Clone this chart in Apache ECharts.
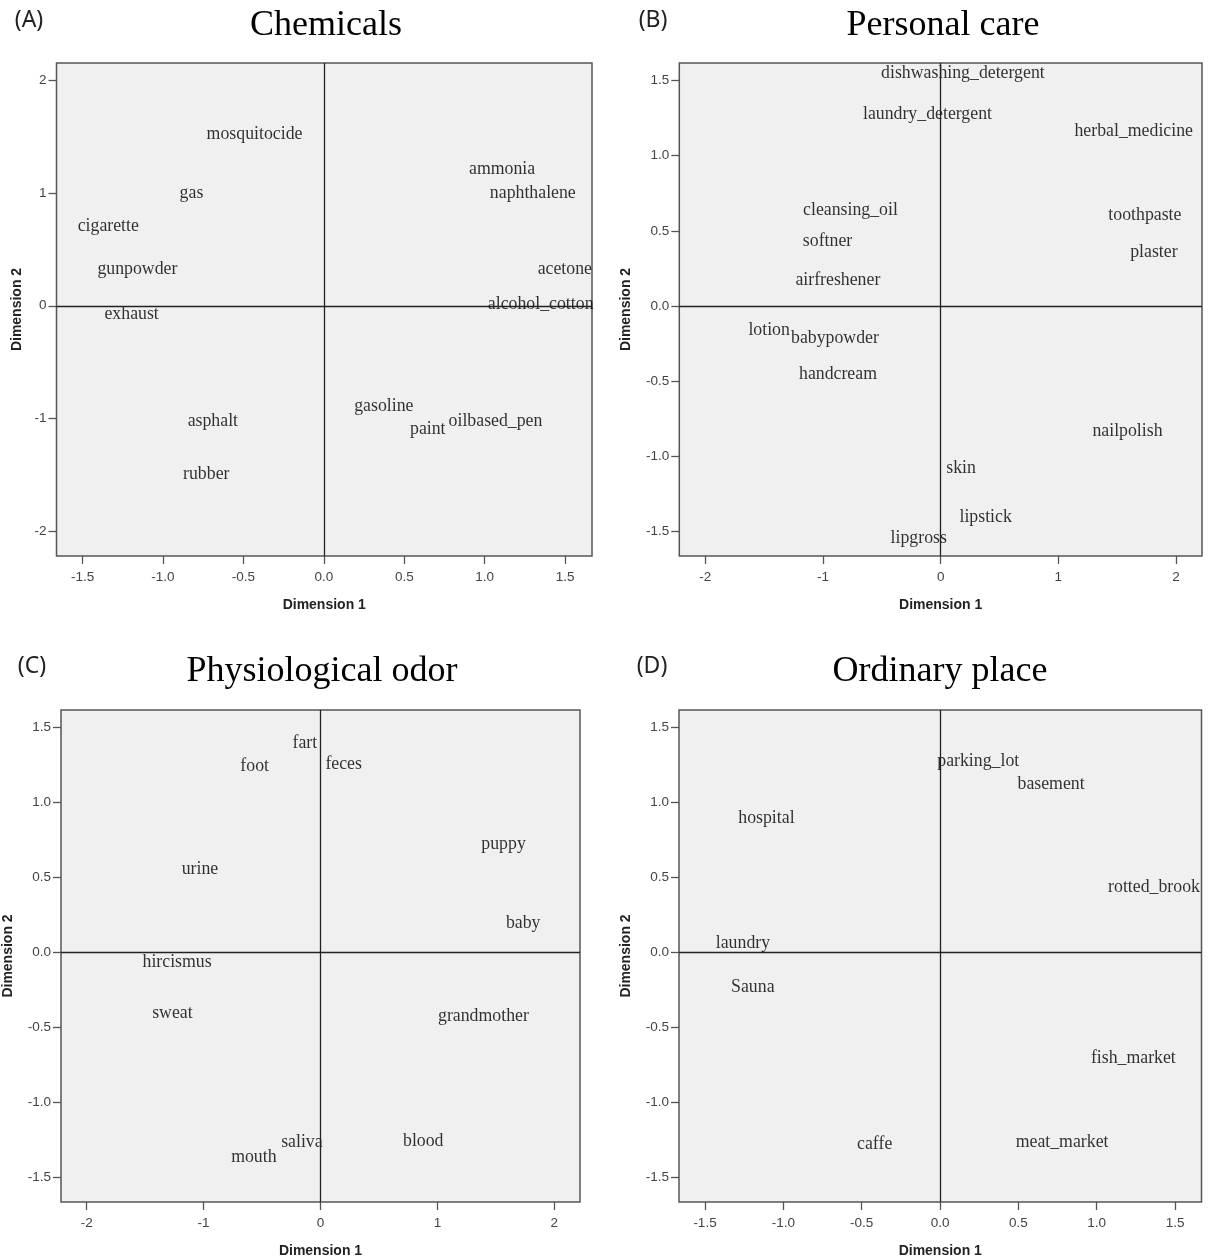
<!DOCTYPE html>
<html>
<head>
<meta charset="utf-8">
<script src="https://cdn.jsdelivr.net/npm/echarts@6/dist/echarts.min.js"></script>
<style>
html,body{margin:0;padding:0;background:#fff;}
#chart{width:1211px;height:1260px;}
</style>
</head>
<body>
<div id="chart"></div>
<script>
// ---------- Data ----------
// (A) Chemicals
const chemNames = ['mosquitocide','ammonia','naphthalene','gas','cigarette','gunpowder','acetone','alcohol_cotton','exhaust','asphalt','rubber','gasoline','paint','oilbased_pen'];
const chemDim1  = [-0.431, 1.108, 1.299, -0.823, -1.340, -1.159, 1.498, 1.348, -1.195, -0.690, -0.731, 0.373, 0.646, 1.067];
const chemDim2  = [1.531, 1.218, 1.003, 1.003, 0.717, 0.333, 0.333, 0.024, -0.065, -1.019, -1.486, -0.886, -1.084, -1.013];
const chemXTicks = [-1.5, -1.0, -0.5, 0.0, 0.5, 1.0, 1.5];
const chemYTicks = [-2, -1, 0, 1, 2];

// (B) Personal care
const careNames = ['dishwashing_detergent','laundry_detergent','herbal_medicine','cleansing_oil','toothpaste','softner','plaster','airfreshener','lotion','babypowder','handcream','nailpolish','skin','lipstick','lipgross'];
const careDim1  = [0.189, -0.112, 1.640, -0.766, 1.735, -0.961, 1.811, -0.873, -1.457, -0.898, -0.872, 1.587, 0.174, 0.382, -0.186];
const careDim2  = [1.553, 1.283, 1.166, 0.642, 0.608, 0.436, 0.363, 0.177, -0.155, -0.211, -0.448, -0.829, -1.075, -1.400, -1.538];
const careXTicks = [-2, -1, 0, 1, 2];
const careYTicks = [-1.5, -1.0, -0.5, 0.0, 0.5, 1.0, 1.5];

// (C) Physiological odor
const physNames = ['fart','foot','feces','puppy','urine','baby','hircismus','sweat','grandmother','saliva','blood','mouth'];
const physDim1  = [-0.134, -0.563, 0.198, 1.566, -1.031, 1.734, -1.227, -1.267, 1.394, -0.159, 0.879, -0.570];
const physDim2  = [1.399, 1.244, 1.255, 0.724, 0.560, 0.199, -0.060, -0.401, -0.421, -1.265, -1.259, -1.365];
const physXTicks = [-2, -1, 0, 1, 2];
const physYTicks = [-1.5, -1.0, -0.5, 0.0, 0.5, 1.0, 1.5];

// (D) Ordinary place
const placeNames = ['parking_lot','basement','hospital','rotted_brook','laundry','Sauna','fish_market','caffe','meat_market'];
const placeDim1  = [0.244, 0.709, -1.108, 1.366, -1.258, -1.195, 1.234, -0.417, 0.779];
const placeDim2  = [1.275, 1.121, 0.900, 0.435, 0.064, -0.226, -0.702, -1.279, -1.263];
const placeXTicks = [-1.5, -1.0, -0.5, 0.0, 0.5, 1.0, 1.5];
const placeYTicks = [-1.5, -1.0, -0.5, 0.0, 0.5, 1.0, 1.5];

const panelTitles  = ['Chemicals', 'Personal care', 'Physiological odor', 'Ordinary place'];
const panelLetters = ['(A)', '(B)', '(C)', '(D)'];

// ---------- Layout / style ----------
const panels = [
  {names: chemNames,  d1: chemDim1,  d2: chemDim2,  xt: chemXTicks,  yt: chemYTicks,  xd: 1, yd: 0,
   grid: {left: 56.5, top: 63, width: 535.5, height: 493}, xr: [-1.662, 1.667], yr: [-2.217, 2.151], yGap: 32,
   title: [326, 26], letter: [29, 20]},
  {names: careNames,  d1: careDim1,  d2: careDim2,  xt: careXTicks,  yt: careYTicks,  xd: 0, yd: 1,
   grid: {left: 679.3, top: 63, width: 522.7, height: 493}, xr: [-2.22, 2.22], yr: [-1.663, 1.617], yGap: 46,
   title: [943, 26], letter: [653, 20]},
  {names: physNames,  d1: physDim1,  d2: physDim2,  xt: physXTicks,  yt: physYTicks,  xd: 0, yd: 1,
   grid: {left: 59, top: 710, width: 521, height: 492}, xr: [-2.22, 2.22], yr: [-1.667, 1.613], yGap: 46,
   title: [322, 672], letter: [32, 666]},
  {names: placeNames, d1: placeDim1, d2: placeDim2, xt: placeXTicks, yt: placeYTicks, xd: 1, yd: 1,
   grid: {left: 679, top: 710, width: 522.5, height: 492}, xr: [-1.666, 1.669], yr: [-1.667, 1.613], yGap: 46,
   title: [940, 672], letter: [652, 666]}
];

const grids = [], xAxes = [], yAxes = [], series = [], graphics = [];
panels.forEach((p, i) => {
  grids.push(Object.assign({
    show: true, backgroundColor: '#f0f0f0', borderColor: '#555', borderWidth: 1.5, containLabel: false
  }, p.grid));
  const tickStyle = {show: true, inside: false, length: 8, lineStyle: {color: '#555', width: 1.3}};
  xAxes.push({
    type: 'value', gridIndex: i, min: p.xr[0], max: p.xr[1],
    name: 'Dimension 1', nameLocation: 'middle', nameGap: 42,
    nameTextStyle: {fontFamily: 'Liberation Sans', fontWeight: 'bold', fontSize: 14, color: '#222'},
    axisLine: {show: false, onZero: false},
    axisTick: Object.assign({customValues: p.xt}, tickStyle),
    axisLabel: {customValues: p.xt, margin: 14, fontFamily: 'Liberation Sans', fontSize: 13.5, color: '#444',
      formatter: v => Number(v).toFixed(p.xd)},
    splitLine: {show: false}
  });
  yAxes.push({
    type: 'value', gridIndex: i, min: p.yr[0], max: p.yr[1],
    name: 'Dimension 2', nameLocation: 'middle', nameGap: p.yGap, nameRotate: 90,
    nameTextStyle: {fontFamily: 'Liberation Sans', fontWeight: 'bold', fontSize: 14, color: '#222'},
    axisLine: {show: false, onZero: false},
    axisTick: Object.assign({customValues: p.yt}, tickStyle),
    axisLabel: {customValues: p.yt, margin: 10, fontFamily: 'Liberation Sans', fontSize: 13.5, color: '#444',
      formatter: v => Number(v).toFixed(p.yd)},
    splitLine: {show: false}
  });
  series.push({
    type: 'scatter', xAxisIndex: i, yAxisIndex: i,
    symbolSize: 0,
    data: p.names.map((n, k) => ({name: n, value: [p.d1[k], p.d2[k]]})),
    label: {show: true, position: 'inside', formatter: '{b}', offset: [0, 1],
      fontFamily: 'Liberation Serif', fontSize: 17.8, color: '#000'},
    markLine: {
      silent: true, symbol: 'none', animation: false,
      label: {show: false},
      lineStyle: {color: '#222', width: 1.3, type: 'solid'},
      data: [{xAxis: 0}, {yAxis: 0}]
    },
    animation: false
  });
  graphics.push({
    type: 'text', x: p.title[0], y: p.title[1],
    style: {text: panelTitles[i], fontFamily: 'Liberation Serif', fontSize: 36, fill: '#000',
      textAlign: 'center', textVerticalAlign: 'middle'}
  });
  graphics.push({
    type: 'text', x: p.letter[0], y: p.letter[1],
    style: {text: panelLetters[i], fontFamily: 'Noto Sans', fontSize: 23, fill: '#222',
      textAlign: 'center', textVerticalAlign: 'middle'}
  });
});

const chart = echarts.init(document.getElementById('chart'), null, {renderer: 'canvas'});
chart.setOption({
  backgroundColor: '#ffffff',
  animation: false,
  grid: grids, xAxis: xAxes, yAxis: yAxes, series: series,
  graphic: graphics
});
</script>
</body>
</html>
